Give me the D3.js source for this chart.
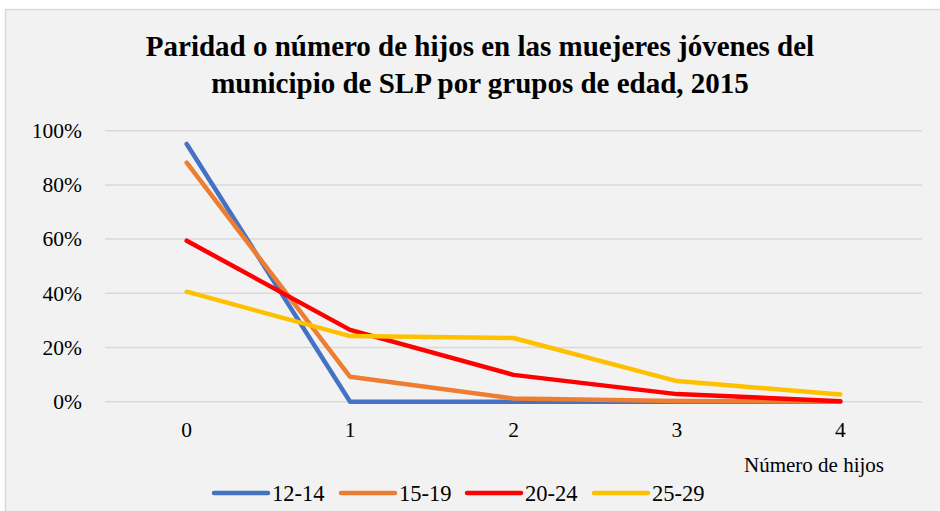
<!DOCTYPE html>
<html>
<head>
<meta charset="utf-8">
<script src="https://cdn.jsdelivr.net/npm/d3@7"></script>
<style>
  html, body { margin: 0; padding: 0; background: #fff; }
  svg { display: block; }
</style>
</head>
<body>
<svg id="chart" width="940" height="511"></svg>
<script>
// categories (number of children) and share of women per age group
const categories = ['0', '1', '2', '3', '4'];
const yTicks = [0, 0.2, 0.4, 0.6, 0.8, 1.0];
const seriesNames = ['12-14', '15-19', '20-24', '25-29'];
const s1214 = [0.951, 0.0, 0.0, 0.0, 0.0];
const s1519 = [0.882, 0.092, 0.012, 0.003, 0.0];
const s2024 = [0.594, 0.265, 0.099, 0.028, 0.002];
const s2529 = [0.406, 0.242, 0.235, 0.076, 0.027];
const colors = ['#4472C4', '#ED7D31', '#FF0000', '#FFC000'];

const titleLines = [
  'Paridad o número de hijos en las muejeres jóvenes del',
  'municipio de SLP por grupos de edad, 2015'
];
const xTitle = 'Número de hijos';

const font = '"Liberation Serif", "Times New Roman", serif';
const svg = d3.select('#chart');

// chart area background + border
svg.append('rect')
  .attr('x', 5.5).attr('y', 9.5).attr('width', 950).attr('height', 520)
  .attr('fill', '#f2f2f2').attr('stroke', '#d9d9d9').attr('stroke-width', 1.5);

// title
svg.append('text')
  .attr('x', 480).attr('y', 56)
  .attr('text-anchor', 'middle')
  .attr('font-family', font).attr('font-weight', 700).attr('font-size', 29)
  .attr('fill', '#000')
  .selectAll('tspan').data(titleLines).join('tspan')
  .attr('x', 480).attr('dy', (d, i) => i ? 37 : 0)
  .text(d => d);

const plotL = 105, plotR = 922, plotT = 130.7, plotB = 401.7;

const x = d3.scaleBand().domain(categories).range([plotL, plotR]);
const y = d3.scaleLinear().domain([0, 1]).range([plotB, plotT]);

// gridlines
svg.append('g')
  .selectAll('line').data(yTicks).join('line')
  .attr('x1', plotL).attr('x2', plotR)
  .attr('y1', d => y(d)).attr('y2', d => y(d))
  .attr('stroke', '#d9d9d9').attr('stroke-width', 1.5);

// y axis labels
const yAxis = svg.append('g')
  .attr('transform', `translate(${plotL - 23},0)`)
  .call(d3.axisLeft(y).tickValues(yTicks).tickFormat(d3.format('.0%')).tickSize(0).tickPadding(0));
yAxis.select('.domain').remove();
yAxis.selectAll('text')
  .attr('font-family', font).attr('font-size', 21.5).attr('fill', '#000');

// x axis labels
const xAxis = svg.append('g')
  .attr('transform', `translate(0,${plotB + 20})`)
  .call(d3.axisBottom(x).tickSize(0).tickPadding(0));
xAxis.select('.domain').remove();
xAxis.selectAll('text')
  .attr('font-family', font).attr('font-size', 21.5).attr('fill', '#000');

svg.append('text')
  .attr('x', 814).attr('y', 472)
  .attr('text-anchor', 'middle')
  .attr('font-family', font).attr('font-size', 21).attr('fill', '#000')
  .text(xTitle);

// lines
const series = [s1214, s1519, s2024, s2529];
const line = d3.line()
  .x((d, i) => x(categories[i]) + x.bandwidth() / 2)
  .y(d => y(d));

svg.append('g')
  .selectAll('path').data(series).join('path')
  .attr('d', line)
  .attr('fill', 'none')
  .attr('stroke', (d, i) => colors[i])
  .attr('stroke-width', 4.5)
  .attr('stroke-linecap', 'round')
  .attr('stroke-linejoin', 'round');

// legend
const legendX = [214, 341, 467, 594];
const lg = svg.append('g').selectAll('g').data(seriesNames).join('g')
  .attr('transform', (d, i) => `translate(${legendX[i]},493)`);
lg.append('line')
  .attr('x1', 0).attr('x2', 54).attr('y1', 0).attr('y2', 0)
  .attr('stroke', (d, i) => colors[i]).attr('stroke-width', 4.5)
  .attr('stroke-linecap', 'round');
lg.append('text')
  .attr('x', 58).attr('y', 7.5)
  .attr('font-family', font).attr('font-size', 22.5).attr('fill', '#000')
  .text(d => d);
</script>
</body>
</html>
